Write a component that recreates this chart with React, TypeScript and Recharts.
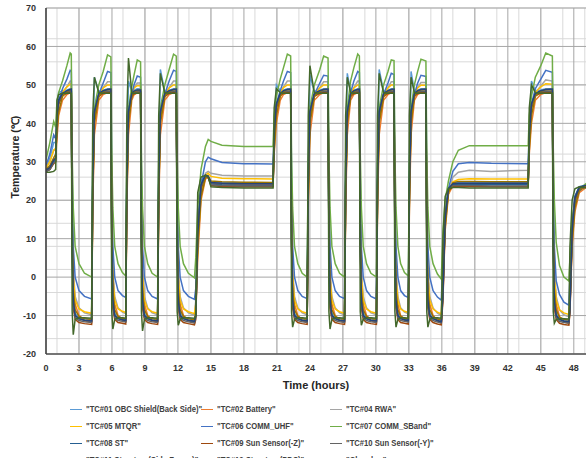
import React from 'react';
import { LineChart, Line, XAxis, YAxis, CartesianGrid } from 'recharts';

const hours = [
  0, 0.35, 0.7, 0.88,
  1.0, 1.15, 1.5, 1.9, 2.2, 2.3,
  2.38, 2.48, 2.65, 3.0, 3.5, 4.15,
  4.25, 4.4, 4.8, 5.2, 5.6, 5.9,
  5.98, 6.08, 6.25, 6.55, 6.95, 7.25,
  7.35, 7.5, 7.8, 8.0, 8.3, 8.6,
  8.68, 8.78, 8.95, 9.25, 9.65, 10.15,
  10.25, 10.4, 10.8, 11.2, 11.6, 11.85,
  11.93, 12.03, 12.2, 12.5, 12.95, 13.5,
  13.62, 13.8, 14.1, 14.5, 14.75, 15.0, 16.0, 18.0, 20.65,
  20.75, 20.95, 21.3, 21.6, 21.95, 22.25,
  22.33, 22.43, 22.6, 22.9, 23.3, 23.75,
  23.85, 24.0, 24.4, 24.9, 25.25, 25.65,
  25.73, 25.83, 26.0, 26.3, 26.7, 27.15,
  27.25, 27.4, 27.7, 28.0, 28.35, 28.5,
  28.58, 28.68, 28.85, 29.15, 29.55, 30.05,
  30.15, 30.3, 30.7, 31.1, 31.4, 31.65,
  31.73, 31.83, 32.0, 32.25, 32.6, 32.95,
  33.05, 33.2, 33.5, 33.8, 34.1, 34.55,
  34.63, 34.73, 34.9, 35.2, 35.6, 35.95,
  36.1, 36.3, 36.6, 37.0, 37.5, 38.5, 40.5, 43.85,
  43.95, 44.15, 44.5, 45.0, 45.45, 46.05,
  46.13, 46.23, 46.4, 46.7, 47.1, 47.55,
  47.65, 47.85, 48.1, 48.5, 49.2,
];

const tc01 = [
  28, 31, 35, 35,
  42, 48, 48.5, 48.7, 49, 49,
  12, -6, -9.5, -10.4, -10.8, -11,
  30, 52, 48.3, 48.6, 49, 49,
  12, -6, -9.5, -10.4, -10.7, -10.9,
  30, 51, 48.3, 48.6, 49, 49,
  12, -6, -9.5, -10.4, -10.8, -11,
  30, 54, 48.3, 48.6, 49, 49,
  12, -6, -9.5, -10.4, -10.8, -11,
  -9, 10, 25, 26.5, 26, 24.8, 24.6, 24.5, 24.5,
  38, 50, 48.5, 48.7, 49, 49,
  12, -6, -9.5, -10.4, -10.8, -11,
  30, 52.5, 48.3, 48.6, 49, 49,
  12, -6, -9.5, -10.4, -10.8, -11,
  30, 53, 48.3, 48.6, 49, 49,
  12, -6, -9.5, -10.4, -10.8, -11,
  30, 54, 48.3, 48.6, 49, 49,
  12, -6, -9.5, -10.4, -10.7, -10.9,
  30, 53.5, 48.3, 48.6, 49, 49,
  12, -6, -9.5, -10.4, -10.8, -11,
  -3, 15, 23, 24.6, 24.7, 24.6, 24.6, 24.6,
  38, 51, 48.5, 48.7, 49, 49,
  12, -6, -9.5, -10.5, -11, -11.2,
  -7, 13, 21, 23.5, 24,
];

const tc02 = [
  28, 28.5, 30, 31,
  36, 42, 46, 47.5, 48, 48,
  17, 1, -7, -10, -11.3, -11.8,
  18, 37, 46, 47.5, 48, 48,
  17, 1, -7, -10, -11.1, -11.5,
  18, 37, 46, 47.4, 47.9, 47.9,
  17, 1, -7, -10, -11.3, -11.8,
  18, 37, 46, 47.5, 48, 48,
  17, 1, -7, -10, -11.3, -11.9,
  -10, 5, 20, 25.5, 26, 24.5, 24.2, 24.1, 24,
  32, 40, 46, 47.5, 48, 48,
  17, 1, -7, -10, -11.3, -11.8,
  18, 37, 46, 47.5, 48, 48,
  17, 1, -7, -10, -11.3, -11.8,
  18, 37, 46, 47.5, 48, 48,
  17, 1, -7, -10, -11.3, -11.8,
  18, 37, 46, 47.5, 48, 48,
  17, 1, -7, -10, -11.1, -11.5,
  18, 37, 46, 47.5, 48, 48,
  17, 1, -7, -10, -11.4, -12,
  -5, 12, 21.5, 23.8, 24.3, 24.3, 24.2, 24.2,
  32, 40, 46, 47.5, 48, 48,
  17, 1, -7, -10.3, -11.6, -12.1,
  -9, 8, 17, 22, 23.5,
];

const tc04 = [
  28.5, 30, 33, 33,
  40, 45, 48, 49.5, 51, 51,
  18, 2, -5, -8, -9.3, -9.8,
  24, 42, 47.5, 49.3, 50.8, 50.8,
  18, 2, -5, -8, -9.1, -9.5,
  24, 42, 47.5, 49.2, 50.5, 50.5,
  18, 2, -5, -8, -9.3, -9.8,
  24, 42, 47.5, 49.3, 51, 51,
  18, 2, -5, -8, -9.3, -9.9,
  -6, 10, 22, 27, 27.5, 27, 26.5, 26.3, 26.3,
  36, 44, 48, 49.5, 51, 51,
  18, 2, -5, -8, -9.3, -9.8,
  24, 42, 47.5, 49.3, 50.8, 50.8,
  18, 2, -5, -8, -9.3, -9.8,
  24, 42, 47.5, 49.3, 51, 51,
  18, 2, -5, -8, -9.3, -9.8,
  24, 42, 47.5, 49.3, 50.8, 50.8,
  18, 2, -5, -8, -9.1, -9.5,
  24, 42, 47.5, 49.3, 50.6, 50.6,
  18, 2, -5, -8, -9.4, -10,
  2, 15, 22, 26, 27.3, 27.8, 27.5, 27.8,
  36, 44, 48, 49.7, 51.3, 51,
  18, 2, -5, -8.5, -9.8, -10.3,
  -3, 12, 19, 22.5, 23.8,
];

const tc05 = [
  28.5, 30, 33, 33.5,
  40, 45.5, 48, 49.5, 50.2, 50.2,
  15, 0, -6, -8.3, -9, -9.4,
  22, 41, 47.5, 49.2, 50, 50,
  15, 0, -6, -8.3, -8.9, -9.2,
  22, 41, 47.5, 49.2, 49.8, 49.8,
  15, 0, -6, -8.3, -9, -9.4,
  22, 41, 47.5, 49.2, 50, 50,
  15, 0, -6, -8.3, -9, -9.5,
  -7, 8, 22, 26.5, 27, 26.2, 25.7, 25.6, 25.5,
  35, 44, 48, 49.3, 50, 50,
  15, 0, -6, -8.3, -9, -9.4,
  22, 41, 47.5, 49.2, 50, 50,
  15, 0, -6, -8.3, -9, -9.4,
  22, 41, 47.5, 49.2, 50, 50,
  15, 0, -6, -8.3, -9, -9.4,
  22, 41, 47.5, 49.2, 50, 50,
  15, 0, -6, -8.3, -8.9, -9.2,
  22, 41, 47.5, 49.2, 49.9, 49.9,
  15, 0, -6, -8.3, -9.1, -9.6,
  0, 14, 22, 24.8, 25.4, 25.6, 25.5, 25.5,
  35, 44, 48, 49.5, 50.3, 50.2,
  15, 0, -6, -8.5, -9.3, -9.7,
  -4, 14, 20, 23, 24.2,
];

const tc06 = [
  29, 32, 37, 36,
  42, 46, 49, 51.5, 53.8, 53.5,
  26, 8, 0, -3.5, -5, -5.7,
  28, 42, 47.5, 50.5, 53.5, 53.2,
  26, 8, 0, -3.5, -4.8, -5.3,
  28, 42, 47.5, 50, 52.3, 52,
  26, 8, 0, -3.5, -5, -5.7,
  28, 42, 47.5, 51, 53.8, 53.5,
  26, 8, 0, -3.5, -5, -5.8,
  -3, 12, 24, 30, 31.2, 30.8, 29.8, 29.5, 29.4,
  38, 45, 48.5, 51, 53.5, 53.2,
  26, 8, 0, -3.5, -5, -5.6,
  28, 42, 47.5, 50.5, 52.5, 52.3,
  26, 8, 0, -3.5, -5, -5.6,
  28, 42, 48, 51, 53.5, 53.2,
  26, 8, 0, -3.5, -5, -5.7,
  28, 42, 47.5, 50.5, 53, 52.7,
  26, 8, 0, -3.5, -4.8, -5.3,
  28, 42, 47.5, 50.5, 52.5, 52.2,
  26, 8, 0, -3.5, -5.2, -6,
  5, 16, 23, 27.5, 29.5, 29.8, 29.6, 29.5,
  38, 45, 49, 51.5, 53.8, 53.3,
  26, 8, -1, -4.5, -6.5, -7.3,
  0, 12, 19, 22.5, 24,
];

const tc07 = [
  30.5, 35, 40.5, 39,
  46, 48, 51, 55, 58.3, 58,
  32, 18, 8, 3.5, 1, 0,
  30, 44, 50, 53.5, 57.8, 57.3,
  32, 18, 8, 3.5, 1.2, 0.3,
  30, 44, 49.5, 52.5, 56.5, 56,
  32, 18, 8, 3.5, 1, 0,
  30, 44, 50, 54, 58, 57.5,
  32, 18, 8, 3.5, 1, -0.2,
  5, 18, 28, 34, 35.8, 35.3, 34.3, 34, 34,
  42, 47, 51.5, 54.5, 58, 57.5,
  32, 18, 8, 3.5, 1, 0,
  30, 44, 50, 54, 57.5, 57,
  32, 18, 8, 3.5, 1, 0,
  30, 44, 51, 54.5, 58, 57.5,
  32, 18, 8, 3.5, 1, 0,
  30, 44, 50, 53.5, 56.5, 56.3,
  32, 18, 8, 3.5, 1.2, 0.3,
  30, 44, 50, 53.5, 56.7, 56.2,
  32, 18, 8, 3.5, 0.8, -0.5,
  12, 20, 25, 30, 33, 34.2, 34.2, 34.2,
  42, 47, 52, 55, 58.3, 57.5,
  34, 20, 9, 3, 0, -1,
  5, 15, 20, 23, 24.5,
];

const tc08 = [
  27.5, 28, 30, 30.5,
  42, 46, 47.6, 48, 48.3, 48.3,
  10, -7, -10, -10.8, -11.2, -11.4,
  24, 43, 47.5, 48, 48.3, 48.3,
  10, -7, -10, -10.8, -11.1, -11.3,
  24, 43, 47.5, 48, 48.2, 48.2,
  10, -7, -10, -10.8, -11.2, -11.4,
  24, 43, 47.5, 48, 48.3, 48.3,
  10, -7, -10, -10.8, -11.2, -11.5,
  -10, 12, 24, 26.5, 26.2, 24.3, 24.0, 23.9, 23.9,
  37, 45, 47.6, 48, 48.3, 48.3,
  10, -7, -10, -10.8, -11.2, -11.4,
  24, 43, 47.5, 48, 48.3, 48.3,
  10, -7, -10, -10.8, -11.2, -11.4,
  24, 43, 47.5, 48, 48.3, 48.3,
  10, -7, -10, -10.8, -11.2, -11.4,
  24, 43, 47.5, 48, 48.3, 48.3,
  10, -7, -10, -10.8, -11.1, -11.3,
  24, 43, 47.5, 48, 48.3, 48.3,
  10, -7, -10, -10.8, -11.3, -11.6,
  -4, 16, 23, 24, 24.1, 24, 24, 24,
  37, 45, 47.6, 48, 48.3, 48.3,
  10, -7, -10, -11, -11.5, -11.7,
  -8, 13, 21, 23.5, 23.8,
];

const tc09 = [
  27.5, 28, 29.5, 30,
  40, 45, 47.2, 47.8, 48, 48,
  8, -8, -11, -11.8, -12.1, -12.3,
  21, 41, 47, 47.8, 48, 48,
  8, -8, -11, -11.8, -12, -12.2,
  21, 41, 47, 47.7, 47.9, 47.9,
  8, -8, -11, -11.8, -12.1, -12.3,
  21, 41, 47, 47.8, 48, 48,
  8, -8, -11, -11.8, -12.1, -12.4,
  -11, 10, 23, 26.2, 26, 23.8, 23.6, 23.5, 23.5,
  35, 44, 47.2, 47.8, 48, 48,
  8, -8, -11, -11.8, -12.1, -12.3,
  21, 41, 47, 47.8, 48, 48,
  8, -8, -11, -11.8, -12.1, -12.3,
  21, 41, 47, 47.8, 48, 48,
  8, -8, -11, -11.8, -12.1, -12.3,
  21, 41, 47, 47.8, 48, 48,
  8, -8, -11, -11.8, -12, -12.2,
  21, 41, 47, 47.8, 48, 48,
  8, -8, -11, -11.8, -12.2, -12.4,
  -6, 14, 22.5, 23.5, 23.6, 23.6, 23.5, 23.5,
  35, 44, 47.2, 47.8, 48, 48,
  8, -8, -11, -12, -12.3, -12.5,
  -9, 11, 20, 23, 23.4,
];

const tc10 = [
  27.5, 28, 29.8, 30,
  41, 45.5, 47.5, 48.2, 48.4, 48.4,
  9, -7, -10.5, -11.3, -11.6, -11.8,
  23, 42, 47.3, 48.2, 48.4, 48.4,
  9, -7, -10.5, -11.3, -11.5, -11.7,
  23, 42, 47.3, 48.1, 48.3, 48.3,
  9, -7, -10.5, -11.3, -11.6, -11.8,
  23, 42, 47.3, 48.2, 48.4, 48.4,
  9, -7, -10.5, -11.3, -11.6, -11.9,
  -10.5, 11, 23.5, 26.3, 26, 24, 23.8, 23.7, 23.7,
  36, 44.5, 47.4, 48.2, 48.4, 48.4,
  9, -7, -10.5, -11.3, -11.6, -11.8,
  23, 42, 47.3, 48.2, 48.4, 48.4,
  9, -7, -10.5, -11.3, -11.6, -11.8,
  23, 42, 47.3, 48.2, 48.4, 48.4,
  9, -7, -10.5, -11.3, -11.6, -11.8,
  23, 42, 47.3, 48.2, 48.4, 48.4,
  9, -7, -10.5, -11.3, -11.5, -11.7,
  23, 42, 47.3, 48.2, 48.4, 48.4,
  9, -7, -10.5, -11.3, -11.7, -11.9,
  -5, 15, 22.8, 23.8, 23.8, 23.8, 23.7, 23.7,
  36, 44.5, 47.4, 48.2, 48.4, 48.4,
  9, -7, -10.5, -11.5, -11.8, -12,
  -8.5, 12, 20.5, 23, 23.5,
];

const tc11 = [
  28, 29, 31, 32,
  38, 43, 47, 48.3, 48.8, 48.8,
  14, -3, -8.5, -10.2, -10.8, -11,
  20, 40, 47, 48.3, 48.8, 48.8,
  14, -3, -8.5, -10.2, -10.7, -10.9,
  20, 40, 47, 48.2, 48.6, 48.6,
  14, -3, -8.5, -10.2, -10.8, -11,
  20, 40, 47, 48.3, 48.8, 48.8,
  14, -3, -8.5, -10.2, -10.8, -11.1,
  -9, 8, 21, 25.8, 26.3, 25, 24.8, 24.7, 24.6,
  33, 42, 47, 48.3, 48.8, 48.8,
  14, -3, -8.5, -10.2, -10.8, -11,
  20, 40, 47, 48.3, 48.8, 48.8,
  14, -3, -8.5, -10.2, -10.8, -11,
  20, 40, 47, 48.3, 48.8, 48.8,
  14, -3, -8.5, -10.2, -10.8, -11,
  20, 40, 47, 48.3, 48.8, 48.8,
  14, -3, -8.5, -10.2, -10.7, -10.9,
  20, 40, 47, 48.3, 48.8, 48.8,
  14, -3, -8.5, -10.2, -10.9, -11.1,
  -2, 13, 22, 24.5, 24.9, 24.9, 24.8, 24.8,
  33, 42, 47, 48.3, 48.8, 48.8,
  14, -3, -8.5, -10.4, -11, -11.2,
  -7, 9, 18, 22.5, 24,
];

const tc12 = [
  27.8, 28.5, 30.5, 31,
  42, 46, 47.8, 48.5, 48.8, 48.9,
  10, -6, -10, -10.8, -11.2, -11.4,
  24, 43, 47.8, 48.5, 48.8, 48.9,
  10, -6, -10, -10.8, -11.1, -11.3,
  24, 43, 47.8, 48.4, 48.7, 48.7,
  10, -6, -10, -10.8, -11.2, -11.4,
  24, 43, 47.8, 48.5, 48.8, 48.9,
  10, -6, -10, -10.8, -11.2, -11.5,
  -10, 11, 24, 26.5, 26.3, 24.6, 24.4, 24.3, 24.3,
  37, 45, 47.8, 48.5, 48.8, 48.9,
  10, -6, -10, -10.8, -11.2, -11.4,
  24, 43, 47.8, 48.5, 48.8, 48.9,
  10, -6, -10, -10.8, -11.2, -11.4,
  24, 43, 47.8, 48.5, 48.8, 48.9,
  10, -6, -10, -10.8, -11.2, -11.4,
  24, 43, 47.8, 48.5, 48.8, 48.9,
  10, -6, -10, -10.8, -11.1, -11.3,
  24, 43, 47.8, 48.5, 48.8, 48.9,
  10, -6, -10, -10.8, -11.3, -11.6,
  -4, 15, 23, 24.3, 24.4, 24.4, 24.4, 24.4,
  37, 45, 47.8, 48.5, 48.8, 48.9,
  10, -6, -10, -11, -11.4, -11.6,
  -8, 12, 20.5, 23.3, 24,
];

const chamber = [
  27.3, 27.3, 27.5, 28,
  46, 47.5, 47.8, 47.8, 47.8, 47.8,
  -9, -15, -11, -10.6, -10.6, -10.7,
  42, 52, 48, 47.8, 47.8, 47.8,
  -9, -13.5, -11, -10.6, -10.6, -10.7,
  42, 57, 48, 47.8, 47.8, 47.8,
  -9, -14, -11, -10.6, -10.6, -10.7,
  42, 53, 48, 47.8, 47.8, 47.8,
  -9, -12.5, -11, -10.6, -10.6, -10.7,
  -10, 22, 26, 26.5, 26, 23.5, 23.3, 23.2, 23.2,
  44, 49, 48, 47.8, 47.8, 47.8,
  -9, -13, -11, -10.6, -10.6, -10.7,
  42, 55, 48, 47.8, 47.8, 47.8,
  -9, -13.5, -11, -10.6, -10.6, -10.7,
  42, 52, 48, 47.8, 47.8, 47.8,
  -9, -12.5, -11, -10.6, -10.6, -10.7,
  42, 53, 48, 47.8, 47.8, 47.8,
  -9, -13, -11, -10.6, -10.6, -10.7,
  42, 52, 48, 47.8, 47.8, 47.8,
  -9, -13, -11, -10.6, -10.6, -10.7,
  10, 21, 23, 23.3, 23.3, 23.2, 23.2, 23.2,
  44, 50, 48, 47.8, 47.8, 47.8,
  -9, -12, -11, -10.8, -10.8, -10.9,
  8, 20, 23, 23.5, 23.2,
];

const seriesNames = [
  '"TC#01 OBC Shield(Back Side)"',
  '"TC#02 Battery"',
  '"TC#04 RWA"',
  '"TC#05 MTQR"',
  '"TC#06 COMM_UHF"',
  '"TC#07 COMM_SBand"',
  '"TC#08 ST"',
  '"TC#09 Sun Sensor(-Z)"',
  '"TC#10 Sun Sensor(-Y)"',
  '"TC#11 Structure(Side Frame)"',
  '"TC#12 Structure(PDS)"',
  '"Chamber"',
];

const seriesColors = [
  '#5B9BD5', '#ED7D31', '#A5A5A5', '#FFC000', '#4472C4', '#70AD47',
  '#255E91', '#9E480E', '#636363', '#997300', '#264478', '#43682B',
];

const seriesValues = [tc01, tc02, tc04, tc05, tc06, tc07, tc08, tc09, tc10, tc11, tc12, chamber];

const xTicks = [0, 3, 6, 9, 12, 15, 18, 21, 24, 27, 30, 33, 36, 39, 42, 45, 48];
const xMinorTicks = [0, 1, 2, 3, 4, 5, 6, 7, 8, 9, 10, 11, 12, 13, 14, 15, 16, 17, 18, 19, 20, 21, 22, 23, 24, 25, 26, 27, 28, 29, 30, 31, 32, 33, 34, 35, 36, 37, 38, 39, 40, 41, 42, 43, 44, 45, 46, 47, 48, 49];
const yTicks = [-20, -10, 0, 10, 20, 30, 40, 50, 60, 70];
const yMinorTicks = [-20, -18, -16, -14, -12, -10, -8, -6, -4, -2, 0, 2, 4, 6, 8, 10, 12, 14, 16, 18, 20, 22, 24, 26, 28, 30, 32, 34, 36, 38, 40, 42, 44, 46, 48, 50, 52, 54, 56, 58, 60, 62, 64, 66, 68, 70];

const rows = hours.map((h, i) => {
  const r: Record<string, number> = { h };
  seriesValues.forEach((vals, k) => {
    r['s' + k] = vals[i];
  });
  return r;
});

const FONT = '"Liberation Sans", Arial, sans-serif';
const tickStyle = { fontSize: 9, fontWeight: 700, fill: '#333', fontFamily: FONT };

const legendCols = [70, 201, 330];
const legendRows = [409, 426, 443, 460];

export default function App() {
  return (
    <div style={{ position: 'absolute', left: 0, top: 0, width: 586, height: 458, overflow: 'hidden', background: '#fff' }}>
      <LineChart width={600} height={458} data={rows} margin={{ top: 8, right: 13, left: 0, bottom: 84 }}>
        <XAxis xAxisId="m" dataKey="h" type="number" domain={[0, 49.2]} ticks={xMinorTicks} hide allowDataOverflow />
        <YAxis yAxisId="m" type="number" domain={[-20, 70]} ticks={yMinorTicks} hide allowDataOverflow />
        <CartesianGrid xAxisId="m" yAxisId="m" stroke="#d9d9d9" strokeWidth={1} />
        <CartesianGrid stroke="#a6a6a6" strokeWidth={1} />
        <XAxis
          dataKey="h"
          type="number"
          domain={[0, 49.2]}
          ticks={xTicks}
          allowDataOverflow
          height={20}
          tickLine={false}
          tickSize={0}
          tickMargin={11}
          axisLine={{ stroke: '#595959', strokeWidth: 1.5 }}
          tick={tickStyle}
          interval={0}
        />
        <XAxis
          xAxisId="top"
          orientation="top"
          dataKey="h"
          type="number"
          domain={[0, 49.2]}
          height={0}
          tick={false}
          tickLine={false}
          axisLine={{ stroke: '#404040', strokeWidth: 1.5 }}
        />
        <YAxis
          type="number"
          domain={[-20, 70]}
          ticks={yTicks}
          allowDataOverflow
          width={46}
          tickLine={false}
          tickSize={0}
          tickMargin={10}
          axisLine={{ stroke: '#404040', strokeWidth: 1.5 }}
          tick={tickStyle}
          interval={0}
        />
        {seriesValues.map((_, k) => (
          <Line
            key={k}
            type="linear"
            dataKey={'s' + k}
            stroke={seriesColors[k]}
            strokeWidth={1.5}
            dot={false}
            activeDot={false}
            isAnimationActive={false}
          />
        ))}
      </LineChart>
      <div
        style={{
          position: 'absolute', left: 15, top: 157, transform: 'translate(-50%, -50%) rotate(-90deg)',
          fontFamily: FONT, fontWeight: 700, fontSize: 10.5, color: '#262626', whiteSpace: 'nowrap',
        }}
      >
        Temperature (℃)
      </div>
      <div
        style={{
          position: 'absolute', left: 316, top: 385, transform: 'translate(-50%, -50%)',
          fontFamily: FONT, fontWeight: 700, fontSize: 11, color: '#262626', whiteSpace: 'nowrap',
        }}
      >
        Time (hours)
      </div>
      {seriesNames.map((name, k) => {
        const col = k % 3;
        const row = Math.floor(k / 3);
        return (
          <div
            key={k}
            style={{
              position: 'absolute', left: legendCols[col], top: legendRows[row] - 7, height: 14,
              display: 'flex', alignItems: 'center', whiteSpace: 'nowrap',
              fontFamily: FONT, fontWeight: 700, fontSize: 9, color: '#404040',
            }}
          >
            <span style={{ display: 'inline-block', width: 12, height: 0, borderTop: `1.5px solid ${seriesColors[k]}`, marginRight: 4 }} />
            <span style={{ display: 'inline-block', transform: 'scaleX(0.85)', transformOrigin: 'left center' }}>{name}</span>
          </div>
        );
      })}
    </div>
  );
}
